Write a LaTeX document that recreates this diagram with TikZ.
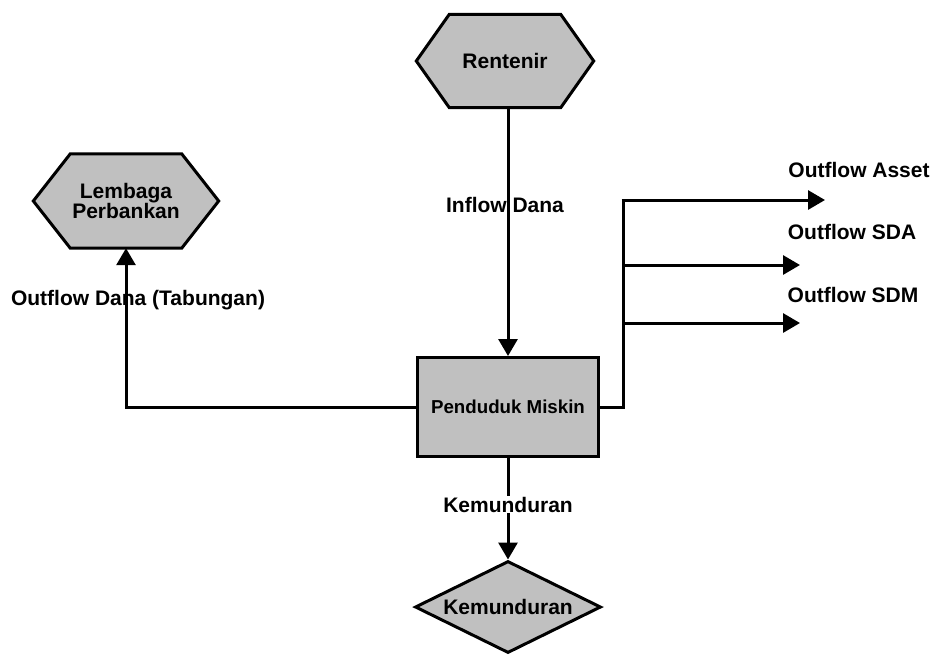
\documentclass[tikz,border=0pt]{standalone}
\usepackage{fontspec}
\setmainfont{Liberation Sans}
\usepackage{tikz}
\usetikzlibrary{arrows.meta,calc,positioning,backgrounds,shapes.geometric}
\definecolor{boxgray}{RGB}{192,192,192}
\tikzset{
  hexnode/.style={
    rectangle,
    inner sep=0pt,
    align=center,
    font=\fontsize{21}{16}\selectfont\bfseries
  },
  hexline/.style={
    draw=black,
    fill=boxgray,
    line width=3pt,
    line join=miter
  },
  mainbox/.style={
    rectangle,
    draw=black,
    fill=boxgray,
    line width=3pt,
    minimum width=181pt,
    minimum height=99pt,
    inner sep=0pt,
    font=\fontsize{18.7}{20}\selectfont\bfseries
  },
  endnode/.style={
    diamond,
    aspect=2,
    draw=black,
    fill=boxgray,
    line width=3pt,
    minimum width=186pt,
    minimum height=92pt,
    inner sep=0pt,
    font=\fontsize{21}{24}\selectfont\bfseries
  },
  flowlabel/.style={
    inner sep=1pt,
    font=\fontsize{21}{24}\selectfont\bfseries
  },
  flow/.style={
    line width=3pt,
    -{Triangle[length=17pt,width=19pt]}
  },
  plainflow/.style={
    line width=3pt
  }
}
% hexagon round a named node: name, slant
\newcommand{\hexframe}[2]{%
  \begin{scope}[on background layer]
    \draw[hexline] (#1.west) -- ($(#1.north west)+(#2,0)$) -- ($(#1.north east)-(#2,0)$)
      -- (#1.east) -- ($(#1.south east)-(#2,0)$) -- ($(#1.south west)+(#2,0)$) -- cycle;
  \end{scope}%
}
\begin{document}
\begin{tikzpicture}[x=1pt,y=-1pt]
  \useasboundingbox (0,0) rectangle (933,654);

  % Sources and sinks
  \node[hexnode, minimum width=177pt, minimum height=93pt] (rent) at (505,61) {Rentenir};
  \hexframe{rent}{33}
  \node[hexnode, minimum width=185pt, minimum height=94pt] (bank) at (126,201) {Lembaga\\Perbankan};
  \hexframe{bank}{37}
  \node[mainbox] (pm) at (508,407) {Penduduk Miskin};
  \node[endnode] (kem) at (508,607) {Kemunduran};

  % Labels
  \node[flowlabel] (inflow) at (505,205) {Inflow Dana};
  \node[flowlabel] (outdana) at (138,300) {Outflow Dana (Tabungan)};
  \node[flowlabel] (asset) at (859,170) {Outflow Asset};
  \node[flowlabel] (sda) at (852,232) {Outflow SDA};
  \node[flowlabel] (sdm) at (853,295) {Outflow SDM};

  % Branch points
  \coordinate (split) at (623,407);
  \coordinate (top) at (623,200);
  \coordinate (b2) at (623,265);
  \coordinate (b3) at (623,323);
  \coordinate (t1) at (825,200);
  \coordinate (t2) at (800,265);
  \coordinate (t3) at (800,323);
  \coordinate (corner) at (126,407);

  \draw[flow] (pm.north |- rent.south) -- (pm.north);
  \draw[flow] (pm.west) -- (corner) -- (bank.south);
  \draw[flow] (pm.south) -- node[flowlabel, fill=white, pos=0.46] (kemlbl) {Kemunduran} (kem.north);
  \draw[plainflow] (pm.east) -- (split) -- (top);
  \draw[flow] ([xshift=-1.5pt]top) -- (t1);
  \draw[flow] (b2) -- (t2);
  \draw[flow] (b3) -- (t3);
\end{tikzpicture}
\end{document}
